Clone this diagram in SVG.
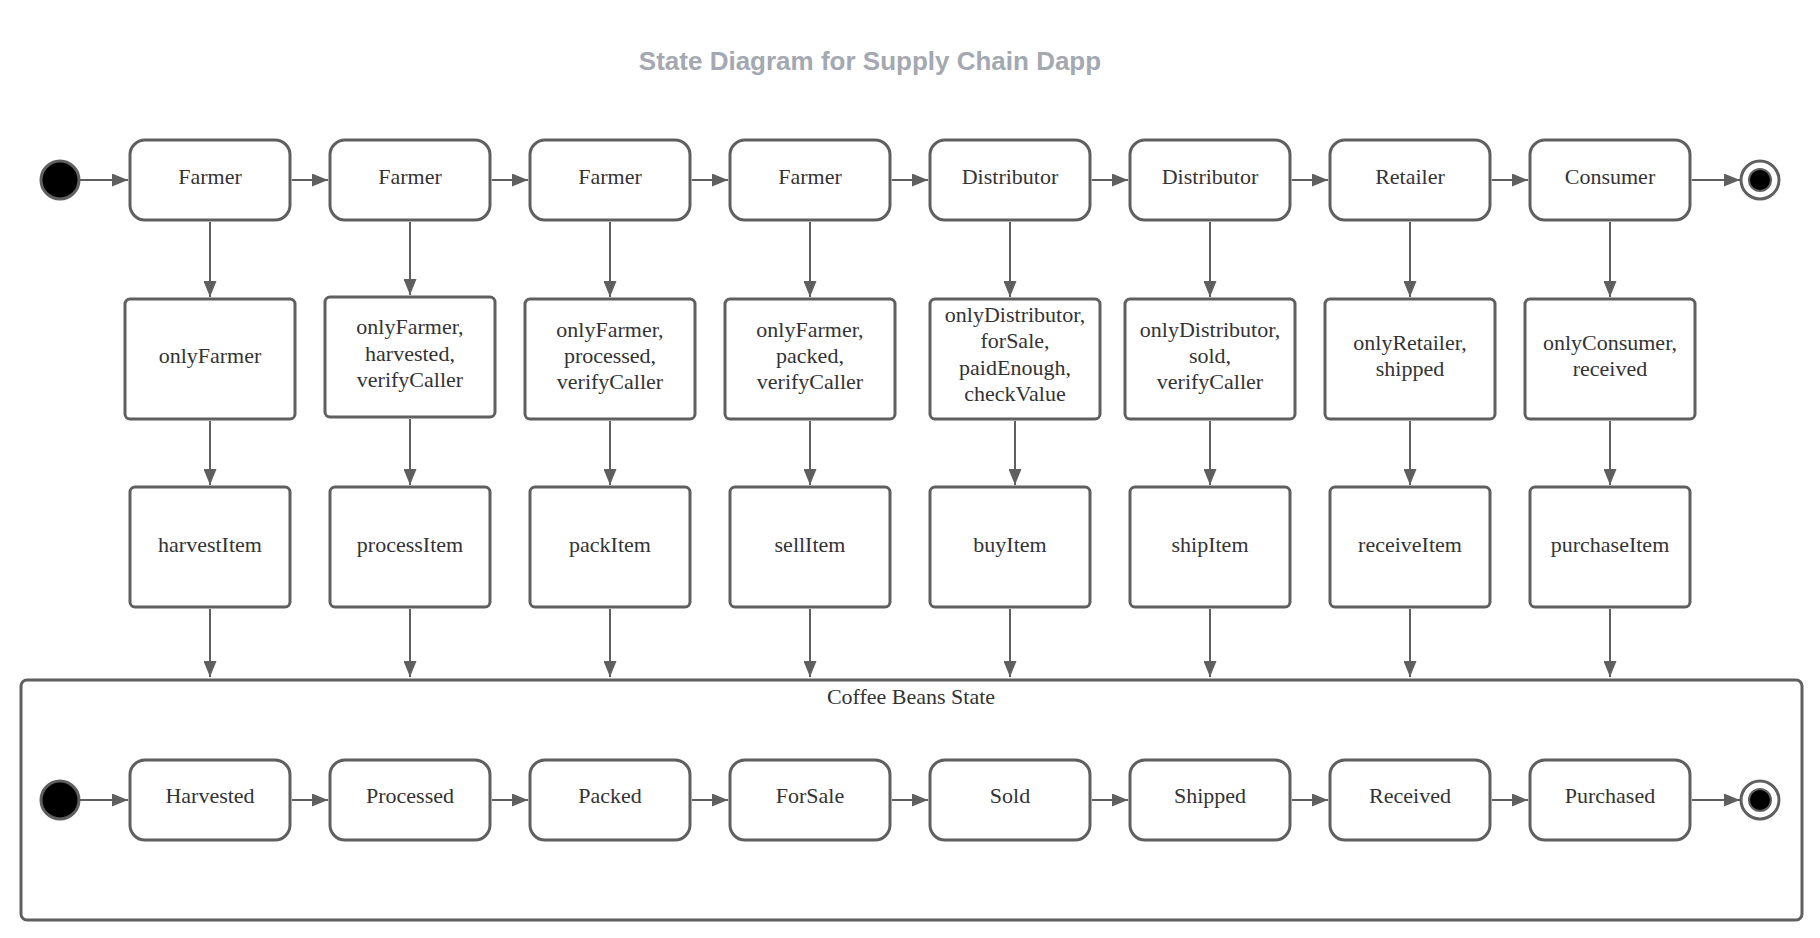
<svg xmlns="http://www.w3.org/2000/svg" width="1820" height="938" viewBox="0 0 1820 938">
<style>
.box{fill:#fff;stroke:#5f5f5f;stroke-width:3}
.cont{fill:#fff;stroke:#5f5f5f;stroke-width:3}
.t{font-family:"Liberation Serif","Times New Roman",serif;font-size:22px;fill:#333;text-anchor:middle}
.title{font-family:"Liberation Sans",Arial,sans-serif;font-size:26px;font-weight:bold;fill:#a4a8b0;text-anchor:middle}
.c{stroke:#5f5f5f;stroke-width:2;fill:none;marker-end:url(#ah)}
.start{fill:#000;stroke:#5f5f5f;stroke-width:3}
.endo{fill:#fff;stroke:#5f5f5f;stroke-width:3}
.endi{fill:#000;stroke:#5f5f5f;stroke-width:2}
</style>
<defs>
<marker id="ah" markerUnits="userSpaceOnUse" markerWidth="17" markerHeight="13" refX="16" refY="6.5" orient="auto">
<path d="M0,0 L16,6.5 L0,13 z" fill="#5f5f5f"/>
</marker>
</defs>
<rect width="1820" height="938" fill="#fff"/>
<text class="title" x="870" y="70">State Diagram for Supply Chain Dapp</text>

<g id="container">
<rect class="cont" x="21" y="680" width="1781" height="240" rx="6"/>
<text class="t" x="911" y="704">Coffee Beans State</text>
</g>

<g id="start1"><circle class="start" cx="60" cy="180" r="19"/></g>
<g id="end1"><circle class="endo" cx="1760" cy="180" r="19"/><circle class="endi" cx="1760" cy="180" r="11"/></g>
<g id="start2"><circle class="start" cx="60" cy="800" r="19"/></g>
<g id="end2"><circle class="endo" cx="1760" cy="800" r="19"/><circle class="endi" cx="1760" cy="800" r="11"/></g>

<g id="actor1"><rect class="box" x="130" y="140" width="160" height="80" rx="15"/><text class="t" x="210" y="184">Farmer</text></g>
<g id="actor2"><rect class="box" x="330" y="140" width="160" height="80" rx="15"/><text class="t" x="410" y="184">Farmer</text></g>
<g id="actor3"><rect class="box" x="530" y="140" width="160" height="80" rx="15"/><text class="t" x="610" y="184">Farmer</text></g>
<g id="actor4"><rect class="box" x="730" y="140" width="160" height="80" rx="15"/><text class="t" x="810" y="184">Farmer</text></g>
<g id="actor5"><rect class="box" x="930" y="140" width="160" height="80" rx="15"/><text class="t" x="1010" y="184">Distributor</text></g>
<g id="actor6"><rect class="box" x="1130" y="140" width="160" height="80" rx="15"/><text class="t" x="1210" y="184">Distributor</text></g>
<g id="actor7"><rect class="box" x="1330" y="140" width="160" height="80" rx="15"/><text class="t" x="1410" y="184">Retailer</text></g>
<g id="actor8"><rect class="box" x="1530" y="140" width="160" height="80" rx="15"/><text class="t" x="1610" y="184">Consumer</text></g>

<g id="guard1"><rect class="box" x="125" y="299" width="170" height="120" rx="5"/><text class="t" x="210" y="363">onlyFarmer</text></g>
<g id="guard2"><rect class="box" x="325" y="297" width="170" height="120" rx="5"/><text class="t" x="410"><tspan x="410" y="334">onlyFarmer,</tspan><tspan x="410" y="361">harvested,</tspan><tspan x="410" y="387">verifyCaller</tspan></text></g>
<g id="guard3"><rect class="box" x="525" y="299" width="170" height="120" rx="5"/><text class="t" x="610"><tspan x="610" y="337">onlyFarmer,</tspan><tspan x="610" y="363">processed,</tspan><tspan x="610" y="389">verifyCaller</tspan></text></g>
<g id="guard4"><rect class="box" x="725" y="299" width="170" height="120" rx="5"/><text class="t" x="810"><tspan x="810" y="337">onlyFarmer,</tspan><tspan x="810" y="363">packed,</tspan><tspan x="810" y="389">verifyCaller</tspan></text></g>
<g id="guard5"><rect class="box" x="930" y="299" width="170" height="120" rx="5"/><text class="t" x="1015"><tspan x="1015" y="322">onlyDistributor,</tspan><tspan x="1015" y="348">forSale,</tspan><tspan x="1015" y="375">paidEnough,</tspan><tspan x="1015" y="401">checkValue</tspan></text></g>
<g id="guard6"><rect class="box" x="1125" y="299" width="170" height="120" rx="5"/><text class="t" x="1210"><tspan x="1210" y="337">onlyDistributor,</tspan><tspan x="1210" y="363">sold,</tspan><tspan x="1210" y="389">verifyCaller</tspan></text></g>
<g id="guard7"><rect class="box" x="1325" y="299" width="170" height="120" rx="5"/><text class="t" x="1410"><tspan x="1410" y="350">onlyRetailer,</tspan><tspan x="1410" y="376">shipped</tspan></text></g>
<g id="guard8"><rect class="box" x="1525" y="299" width="170" height="120" rx="5"/><text class="t" x="1610"><tspan x="1610" y="350">onlyConsumer,</tspan><tspan x="1610" y="376">received</tspan></text></g>

<g id="fn1"><rect class="box" x="130" y="487" width="160" height="120" rx="5"/><text class="t" x="210" y="552">harvestItem</text></g>
<g id="fn2"><rect class="box" x="330" y="487" width="160" height="120" rx="5"/><text class="t" x="410" y="552">processItem</text></g>
<g id="fn3"><rect class="box" x="530" y="487" width="160" height="120" rx="5"/><text class="t" x="610" y="552">packItem</text></g>
<g id="fn4"><rect class="box" x="730" y="487" width="160" height="120" rx="5"/><text class="t" x="810" y="552">sellItem</text></g>
<g id="fn5"><rect class="box" x="930" y="487" width="160" height="120" rx="5"/><text class="t" x="1010" y="552">buyItem</text></g>
<g id="fn6"><rect class="box" x="1130" y="487" width="160" height="120" rx="5"/><text class="t" x="1210" y="552">shipItem</text></g>
<g id="fn7"><rect class="box" x="1330" y="487" width="160" height="120" rx="5"/><text class="t" x="1410" y="552">receiveItem</text></g>
<g id="fn8"><rect class="box" x="1530" y="487" width="160" height="120" rx="5"/><text class="t" x="1610" y="552">purchaseItem</text></g>

<g id="state1"><rect class="box" x="130" y="760" width="160" height="80" rx="15"/><text class="t" x="210" y="803">Harvested</text></g>
<g id="state2"><rect class="box" x="330" y="760" width="160" height="80" rx="15"/><text class="t" x="410" y="803">Processed</text></g>
<g id="state3"><rect class="box" x="530" y="760" width="160" height="80" rx="15"/><text class="t" x="610" y="803">Packed</text></g>
<g id="state4"><rect class="box" x="730" y="760" width="160" height="80" rx="15"/><text class="t" x="810" y="803">ForSale</text></g>
<g id="state5"><rect class="box" x="930" y="760" width="160" height="80" rx="15"/><text class="t" x="1010" y="803">Sold</text></g>
<g id="state6"><rect class="box" x="1130" y="760" width="160" height="80" rx="15"/><text class="t" x="1210" y="803">Shipped</text></g>
<g id="state7"><rect class="box" x="1330" y="760" width="160" height="80" rx="15"/><text class="t" x="1410" y="803">Received</text></g>
<g id="state8"><rect class="box" x="1530" y="760" width="160" height="80" rx="15"/><text class="t" x="1610" y="803">Purchased</text></g>

<g id="connectors">
<path class="c" d="M80,180 H128"/>
<path class="c" d="M292,180 H328"/>
<path class="c" d="M492,180 H528"/>
<path class="c" d="M692,180 H728"/>
<path class="c" d="M892,180 H928"/>
<path class="c" d="M1092,180 H1128"/>
<path class="c" d="M1292,180 H1328"/>
<path class="c" d="M1492,180 H1528"/>
<path class="c" d="M1692,180 H1740"/>

<path class="c" d="M210,222 V297"/>
<path class="c" d="M410,222 V295"/>
<path class="c" d="M610,222 V297"/>
<path class="c" d="M810,222 V297"/>
<path class="c" d="M1010,222 V297"/>
<path class="c" d="M1210,222 V297"/>
<path class="c" d="M1410,222 V297"/>
<path class="c" d="M1610,222 V297"/>

<path class="c" d="M210,421 V485"/>
<path class="c" d="M410,419 V485"/>
<path class="c" d="M610,421 V485"/>
<path class="c" d="M810,421 V485"/>
<path class="c" d="M1015,421 V485"/>
<path class="c" d="M1210,421 V485"/>
<path class="c" d="M1410,421 V485"/>
<path class="c" d="M1610,421 V485"/>

<path class="c" d="M210,609 V677"/>
<path class="c" d="M410,609 V677"/>
<path class="c" d="M610,609 V677"/>
<path class="c" d="M810,609 V677"/>
<path class="c" d="M1010,609 V677"/>
<path class="c" d="M1210,609 V677"/>
<path class="c" d="M1410,609 V677"/>
<path class="c" d="M1610,609 V677"/>

<path class="c" d="M80,800 H128"/>
<path class="c" d="M292,800 H328"/>
<path class="c" d="M492,800 H528"/>
<path class="c" d="M692,800 H728"/>
<path class="c" d="M892,800 H928"/>
<path class="c" d="M1092,800 H1128"/>
<path class="c" d="M1292,800 H1328"/>
<path class="c" d="M1492,800 H1528"/>
<path class="c" d="M1692,800 H1740"/>
</g>
</svg>
